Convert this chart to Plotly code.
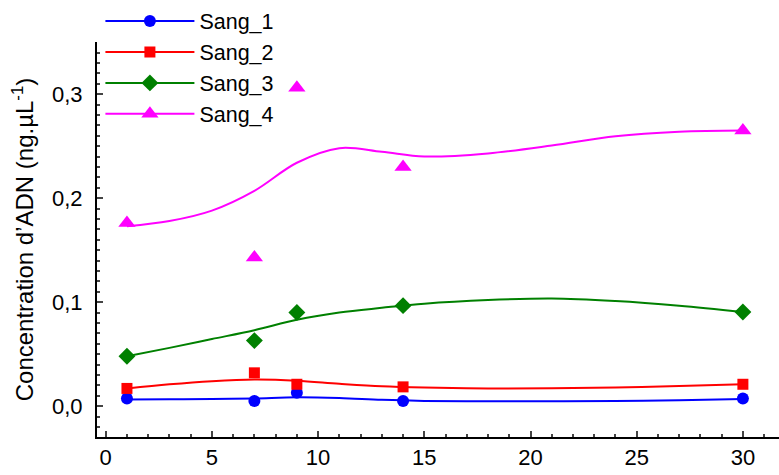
import plotly.graph_objects as go

# ---- data ----
days = [1, 7, 9, 14, 30]
sang_1 = [0.0074, 0.0050, 0.0128, 0.0050, 0.0074]
sang_2 = [0.0170, 0.0320, 0.0210, 0.0185, 0.0210]
sang_3 = [0.0480, 0.0630, 0.0900, 0.0966, 0.0905]
sang_4 = [0.1760, 0.1430, 0.3060, 0.2300, 0.2650]

# smoothed fit curves
fit_x = [1, 3, 5, 7, 9, 11, 13, 15, 18, 21, 24, 27, 30]
fit_1 = [0.0064, 0.0066, 0.0068, 0.0074, 0.0085, 0.0078, 0.0060, 0.0050, 0.0046, 0.0046, 0.0048, 0.0056, 0.0068]
fit_2 = [0.0170, 0.0210, 0.0240, 0.0256, 0.0245, 0.0215, 0.0190, 0.0178, 0.0170, 0.0172, 0.0180, 0.0193, 0.0210]
fit_3 = [0.0480, 0.0560, 0.0645, 0.0730, 0.0830, 0.0900, 0.0945, 0.0985, 0.1020, 0.1035, 0.1010, 0.0965, 0.0905]
fit_4 = [0.1730, 0.1780, 0.1880, 0.2070, 0.2340, 0.2480, 0.2445, 0.2400, 0.2430, 0.2505, 0.2595, 0.2638, 0.2650]

names = ["Sang_1", "Sang_2", "Sang_3", "Sang_4"]
points = [sang_1, sang_2, sang_3, sang_4]
fits = [fit_1, fit_2, fit_3, fit_4]
colors = ["#0000FF", "#FF0000", "#008000", "#FF00FF"]
symbols = ["circle", "square", "diamond", "triangle-up"]
sizes = [12, 11, 13, 15]

x_ticks = [0, 5, 10, 15, 20, 25, 30]
y_ticks = [0.0, 0.1, 0.2, 0.3]

FONT = "Liberation Sans"

fig = go.Figure()
for name, pts, fit, col, sym, sz in zip(names, points, fits, colors, symbols, sizes):
    fig.add_trace(go.Scatter(x=fit_x, y=fit, mode="lines", line=dict(color=col, width=2, shape="spline", smoothing=1.0),
                             showlegend=False, hoverinfo="skip"))
    fig.add_trace(go.Scatter(x=days, y=pts, mode="markers", marker=dict(color=col, symbol=sym, size=sz, line=dict(width=0)),
                             showlegend=False, name=name))
    fig.add_trace(go.Scatter(x=[None], y=[None], mode="lines+markers", name=name,
                             line=dict(color=col, width=2),
                             marker=dict(color=col, symbol=sym, size=sz, line=dict(width=0))))

fig.update_layout(
    width=779, height=475,
    margin=dict(l=97, r=0, t=42, b=38),
    paper_bgcolor="white", plot_bgcolor="white",
    separators=", ",
    font=dict(family=FONT, size=22, color="black"),
    legend=dict(x=0.005, y=1.105, xanchor="left", yanchor="top", font=dict(size=21.5),
                itemwidth=89, tracegroupgap=0, bgcolor="rgba(0,0,0,0)", borderwidth=0),
    xaxis=dict(range=[-0.41, 31.7], tickvals=x_ticks, ticks="inside", ticklen=6, tickwidth=2,
               showline=True, linewidth=2, linecolor="black", showgrid=False, zeroline=False,
               minor=dict(dtick=1, ticks="inside", ticklen=3, tickwidth=1.5, showgrid=False),
               tickfont=dict(size=22)),
    yaxis=dict(range=[-0.0297, 0.3501], tickvals=y_ticks, tickformat=".1f", ticks="inside", ticklen=6, tickwidth=2,
               showline=True, linewidth=2, linecolor="black", showgrid=False, zeroline=False,
               minor=dict(dtick=0.01, ticks="inside", ticklen=3, tickwidth=1.5, showgrid=False),
               tickfont=dict(size=22), ticklabelstandoff=8,
               title=dict(text="Concentration d’ADN (ng.µL<sup>-1</sup>)", font=dict(size=24), standoff=12)),
)

fig.write_html("out.html")
